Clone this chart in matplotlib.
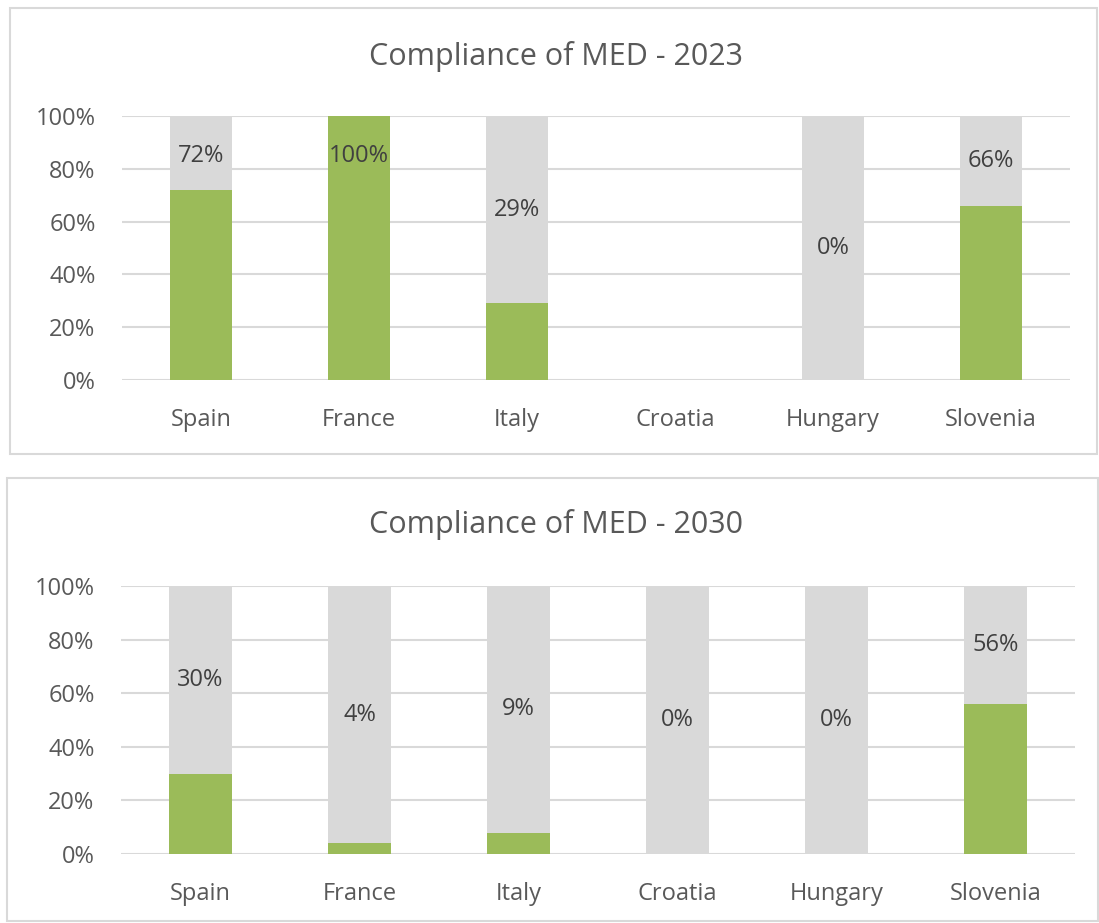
import matplotlib
matplotlib.use("Agg")
import matplotlib.pyplot as plt
from matplotlib.patches import Rectangle

countries = ["Spain", "France", "Italy", "Croatia", "Hungary", "Slovenia"]
compliance_2023 = [72, 100, 29, 0, 0, 66]
background_2023 = [100, 100, 100, 0, 100, 100]
labels_2023 = ["72%", "100%", "29%", None, "0%", "66%"]
compliance_2030 = [30, 4, 8, 0, 0, 56]
background_2030 = [100, 100, 100, 100, 100, 100]
labels_2030 = ["30%", "4%", "9%", "0%", "0%", "56%"]
yticks = [0, 20, 40, 60, 80, 100]
ytick_labels = ["0%", "20%", "40%", "60%", "80%", "100%"]

GREEN = "#9BBB59"
GRAY = "#D9D9D9"
TEXT = "#595959"
plt.rcParams["font.family"] = ["Open Sans", "DejaVu Sans"]

W, H = 1099, 923
fig = plt.figure(figsize=(W / 100, H / 100), dpi=100)

def px_rect(x0, y0, x1, y1):
    return [x0 / W, 1 - y1 / H, (x1 - x0) / W, (y1 - y0) / H]

# panel borders
for (x0, y0, x1, y1) in [(10, 8, 1097, 454), (7, 478, 1098, 921)]:
    r = px_rect(x0, y0, x1, y1)
    fig.patches.append(Rectangle((r[0], r[1]), r[2], r[3], transform=fig.transFigure,
                                 fill=False, edgecolor="#D9D9D9", linewidth=1.5))

def panel(rect, title, title_y, green, back, labels):
    ax = fig.add_axes(px_rect(*rect))
    x = range(len(countries))
    ax.bar(x, back, width=0.39, color=GRAY, zorder=2)
    ax.bar(x, green, width=0.39, color=GREEN, zorder=3)
    for i, (g, lab) in enumerate(zip(green, labels)):
        if lab is None:
            continue
        yy = min((g + 100) / 2, 85)
        ax.text(i, yy, lab, ha="center", va="center", fontsize=17, color="#404040", zorder=4)
    ax.set_xlim(-0.5, len(countries) - 0.5)
    ax.set_ylim(0, 100)
    ax.set_yticks(yticks)
    ax.set_yticklabels(ytick_labels)
    ax.set_xticks(list(x))
    ax.set_xticklabels(countries)
    ax.tick_params(length=0, labelsize=17, labelcolor=TEXT)
    ax.tick_params(axis="x", pad=20)
    ax.tick_params(axis="y", pad=19)
    ax.grid(axis="y", color=GRAY, linewidth=1.5, zorder=0)
    ax.set_axisbelow(True)
    for s in ax.spines.values():
        s.set_visible(False)
    fig.text(556 / W, 1 - title_y / H, title,
             ha="center", va="center", fontsize=22, color=TEXT)
    return ax

panel((122, 116, 1070, 380), "Compliance of MED - 2023", 56, compliance_2023, background_2023, labels_2023)
panel((121, 586, 1075, 854), "Compliance of MED - 2030", 525, compliance_2030, background_2030, labels_2030)

fig.savefig("out.png", dpi=100)
